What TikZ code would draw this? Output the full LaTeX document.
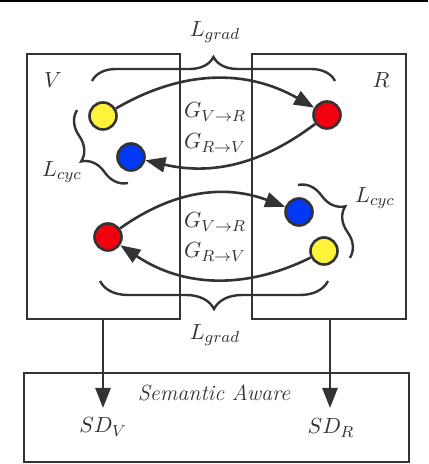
\documentclass[tikz,border=0pt]{standalone}
\usepackage{amsmath}
\usetikzlibrary{arrows.meta, decorations.pathreplacing, positioning}

\definecolor{ink}{HTML}{333333}
\definecolor{ballyellow}{HTML}{FFF23A}
\definecolor{ballred}{HTML}{F2000F}
\definecolor{ballblue}{HTML}{0038F5}

\begin{document}
\begin{tikzpicture}[x=0.5pt, y=0.5pt,
    box/.style={draw=ink, line width=1pt, inner sep=0pt},
    ball/.style={circle, draw=ink, line width=1.3pt, minimum size=13.5pt, inner sep=0pt},
    flow/.style={draw=ink, line width=1.3pt, -{Triangle[length=10pt,width=7.5pt]}},
    cbrace/.style={draw=ink, line width=1.2pt, decorate, decoration={brace, amplitude=#1}},
    cbrace/.default=12pt,
    lbl/.style={text=ink, inner sep=1pt, font=\fontsize{11}{13}\selectfont}]
  \useasboundingbox (0,0) rectangle (428,464);
  % top rule
  \draw[line width=1.2pt] (0,463) -- (428,463);

  % the two domains
  \node[box, minimum width=76.5pt, minimum height=132.5pt] (vbox) at (103.5,277.5) {};
  \node[box, minimum width=77pt, minimum height=132.5pt] (rbox) at (329,277.5) {};
  \node[lbl] (vname) at (53,384) {$V$};
  \node[lbl] (rname) at (381,384) {$R$};

  % upper pair of samples
  \node[ball, fill=ballyellow] (y1) at (103,348) {};
  \node[ball, fill=ballred] (r1) at (327,349) {};
  \node[ball, fill=ballblue] (b1) at (131,307) {};
  \draw[flow] (y1) to[bend left=30] (r1);
  \draw[flow] (r1) to[bend left=25] (b1);
  \node[lbl] (gvr1) at (215,352) {$G_{V\rightarrow R}$};
  \node[lbl] (grv1) at (215,321) {$G_{R\rightarrow V}$};

  % lower pair of samples
  \node[ball, fill=ballred] (r2) at (108,227) {};
  \node[ball, fill=ballblue] (b2) at (299,252) {};
  \node[ball, fill=ballyellow] (y2) at (324,213) {};
  \draw[flow] (r2) to[bend left=28] (b2);
  \draw[flow] (y2) to[bend left=30] (r2);
  \node[lbl] (gvr2) at (215,242) {$G_{V\rightarrow R}$};
  \node[lbl] (grv2) at (215,212) {$G_{R\rightarrow V}$};

  % losses
  \draw[cbrace] (92,383) -- (335,383);
  \node[lbl] (lgradtop) at (215,432) {$L_{grad}$};
  \draw[cbrace=14pt] (328,183) -- (100,183);
  \node[lbl] (lgradbot) at (215,129) {$L_{grad}$};
  \draw[cbrace=13pt] (128,281) -- (77,354);
  \node[lbl] (lcycl) at (62,292) {$L_{cyc}$};
  \draw[cbrace=13pt] (298,279) -- (350,206);
  \node[lbl] (lcycr) at (375,266) {$L_{cyc}$};

  % semantic aware part
  \node[box, minimum width=192.5pt, minimum height=44.5pt] (sembox) at (216,46.5) {};
  \node[lbl] (semname) at (214,71) {\textit{Semantic Aware}};
  \coordinate (vtip) at (103,56);
  \coordinate (rtip) at (330,56);
  \draw[flow] (vbox.south -| vtip) -- (vtip);
  \draw[flow] (rbox.south -| rtip) -- (rtip);
  \node[lbl] (sdv) at (103,37) {$SD_V$};
  \node[lbl] (sdr) at (331,36) {$SD_R$};
\end{tikzpicture}
\end{document}
